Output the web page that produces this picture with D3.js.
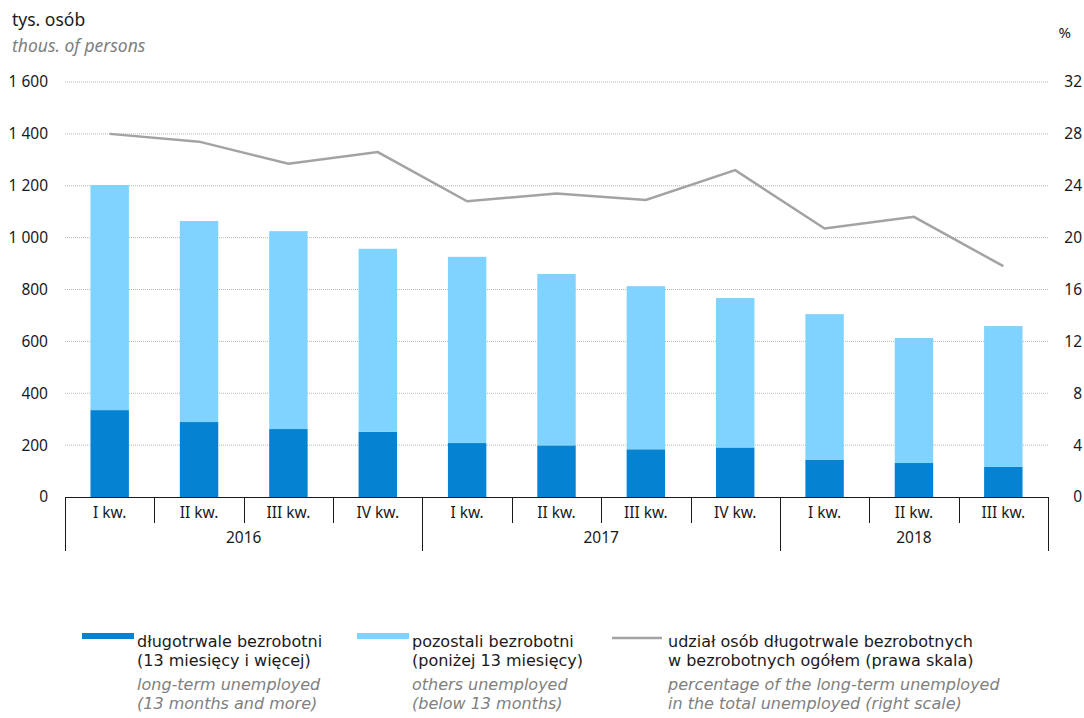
<!DOCTYPE html>
<html>
<head>
<meta charset="utf-8">
<script src="https://cdn.jsdelivr.net/npm/d3@7"></script>
<style>
  body { margin: 0; background: #fff; }
  svg text { font-family: "Noto Sans", "Open Sans", sans-serif; }
  svg text.leg { font-family: "DejaVu Sans", sans-serif; }
</style>
</head>
<body>
<div id="chart"></div>
<script>
// Data
const quarters = ["I kw.", "II kw.", "III kw.", "IV kw.", "I kw.", "II kw.", "III kw.", "IV kw.", "I kw.", "II kw.", "III kw."];
const years = ["2016", "2017", "2018"];
const yearSpans = [4, 4, 3];
const longTerm = [335, 289, 262, 251, 208, 199, 184, 191, 144, 131, 116];
const others = [868, 775, 763, 706, 718, 661, 629, 576, 561, 482, 543];
const sharePct = [28.0, 27.4, 25.7, 26.6, 22.8, 23.4, 22.9, 25.2, 20.7, 21.6, 17.8];
const leftTicks = [0, 200, 400, 600, 800, 1000, 1200, 1400, 1600];
const rightTicks = [0, 4, 8, 12, 16, 20, 24, 28, 32];

const width = 1084, height = 718;
const margin = { left: 65, right: 36, top: 82, bottom: 221 };
const x0 = margin.left, x1 = width - margin.right;
const yTop = margin.top, yBot = height - margin.bottom;

const darkBlue = "#0583d2", lightBlue = "#80d3fe", lineGray = "#a3a3a3";

const svg = d3.select("#chart").append("svg")
    .attr("width", width)
    .attr("height", height);

const idx = d3.range(quarters.length);
const x = d3.scaleBand().domain(idx).range([x0, x1]).paddingInner(0.57).paddingOuter(0.285);
const xb = d3.scaleBand().domain(idx).range([x0, x1]);
const yL = d3.scaleLinear().domain([0, 1600]).range([yBot, yTop]);
const yR = d3.scaleLinear().domain([0, 32]).range([yBot, yTop]);

const fmt = d => d3.format(",")(d).replace(/,/g, " ");

// gridlines
svg.append("g").selectAll("line")
    .data(leftTicks.filter(d => d > 0))
    .join("line")
    .attr("x1", x0).attr("x2", x1)
    .attr("y1", d => yL(d)).attr("y2", d => yL(d))
    .attr("stroke", "#b5b5b5")
    .attr("stroke-width", 1)
    .attr("stroke-dasharray", "1,1");

// left axis labels
svg.append("g").selectAll("text")
    .data(leftTicks)
    .join("text")
    .attr("x", 48).attr("y", d => yL(d))
    .attr("dy", "0.35em")
    .attr("text-anchor", "end")
    .attr("font-size", 15.5)
    .attr("fill", "#1a1a1a")
    .text(fmt);

// right axis labels
svg.append("g").selectAll("text")
    .data(rightTicks)
    .join("text")
    .attr("x", 1082).attr("y", d => yR(d))
    .attr("dy", "0.35em")
    .attr("text-anchor", "end")
    .attr("font-size", 15.5)
    .attr("fill", "#1a1a1a")
    .text(d => d);

// axis titles
svg.append("text").attr("x", 12).attr("y", 26)
    .attr("font-size", 17.5).attr("fill", "#1a1a1a").text("tys. osób");
svg.append("text").attr("x", 12).attr("y", 52)
    .attr("font-size", 17.5).attr("font-style", "italic").attr("fill", "#808080").text("thous. of persons");
svg.append("text").attr("x", 1071).attr("y", 38)
    .attr("font-size", 15).attr("text-anchor", "end").attr("fill", "#1a1a1a").text("%");

// stacked bars
const bars = svg.append("g");
bars.selectAll("rect.lt")
    .data(idx)
    .join("rect")
    .attr("class", "lt")
    .attr("x", i => x(i)).attr("width", x.bandwidth())
    .attr("y", i => yL(longTerm[i]))
    .attr("height", i => yBot - yL(longTerm[i]))
    .attr("fill", darkBlue);
bars.selectAll("rect.ot")
    .data(idx)
    .join("rect")
    .attr("class", "ot")
    .attr("x", i => x(i)).attr("width", x.bandwidth())
    .attr("y", i => yL(longTerm[i] + others[i]))
    .attr("height", i => yL(longTerm[i]) - yL(longTerm[i] + others[i]))
    .attr("fill", lightBlue);

// line (right scale)
const line = d3.line()
    .x(i => xb(i) + xb.bandwidth() / 2)
    .y(i => yR(sharePct[i]));
svg.append("path")
    .datum(idx)
    .attr("d", line)
    .attr("fill", "none")
    .attr("stroke", lineGray)
    .attr("stroke-width", 2.5);

// category axis
const ax = svg.append("g").attr("stroke", "#1a1a1a").attr("stroke-width", 1);
ax.append("line").attr("x1", x0).attr("x2", x1).attr("y1", yBot + 0.5).attr("y2", yBot + 0.5);
// quarter separators
ax.selectAll("line.q")
    .data(idx.slice(1))
    .join("line")
    .attr("class", "q")
    .attr("x1", i => Math.round(xb(i)) + 0.5).attr("x2", i => Math.round(xb(i)) + 0.5)
    .attr("y1", yBot).attr("y2", yBot + 26);
// year separators
const yearBounds = [0];
yearSpans.forEach(s => yearBounds.push(yearBounds[yearBounds.length - 1] + s));
ax.selectAll("line.y")
    .data(yearBounds)
    .join("line")
    .attr("class", "y")
    .attr("x1", b => Math.round(b < idx.length ? xb(b) : x1) + 0.5)
    .attr("x2", b => Math.round(b < idx.length ? xb(b) : x1) + 0.5)
    .attr("y1", yBot).attr("y2", yBot + 54);

svg.append("g").selectAll("text")
    .data(idx)
    .join("text")
    .attr("x", i => xb(i) + xb.bandwidth() / 2)
    .attr("y", yBot + 21)
    .attr("text-anchor", "middle")
    .attr("font-size", 15.5)
    .attr("fill", "#1a1a1a")
    .text(i => quarters[i]);

svg.append("g").selectAll("text")
    .data(years)
    .join("text")
    .attr("x", (d, k) => {
        const a = xb(yearBounds[k]);
        const b = yearBounds[k + 1] < idx.length ? xb(yearBounds[k + 1]) : x1;
        return (a + b) / 2;
    })
    .attr("y", yBot + 46)
    .attr("text-anchor", "middle")
    .attr("font-size", 15.5)
    .attr("fill", "#1a1a1a")
    .text(d => d);

// legend
const legendItems = [
    { type: "rect", color: darkBlue, sx: 82, tx: 137, pl: ["długotrwale bezrobotni", "(13 miesięcy i więcej)"], en: ["long-term unemployed", "(13 months and more)"] },
    { type: "rect", color: lightBlue, sx: 357, tx: 412, pl: ["pozostali bezrobotni", "(poniżej 13 miesięcy)"], en: ["others unemployed", "(below 13 months)"] },
    { type: "line", color: lineGray, sx: 612, tx: 668, pl: ["udział osób długotrwale bezrobotnych", "w bezrobotnych ogółem (prawa skala)"], en: ["percentage of the long-term unemployed", "in the total unemployed (right scale)"] }
];
const lg = svg.append("g");
legendItems.forEach(it => {
    if (it.type === "rect") {
        lg.append("rect").attr("x", it.sx).attr("y", 633).attr("width", 52).attr("height", 6).attr("fill", it.color);
    } else {
        lg.append("line").attr("x1", it.sx).attr("x2", it.sx + 50).attr("y1", 638).attr("y2", 638)
            .attr("stroke", it.color).attr("stroke-width", 2.5);
    }
    const t = lg.append("text").attr("class", "leg").attr("x", it.tx).attr("y", 647).attr("font-size", 16);
    it.pl.forEach((s, k) => {
        t.append("tspan").attr("x", it.tx).attr("dy", k === 0 ? 0 : 19)
            .attr("fill", "#1a1a1a").text(s);
    });
    it.en.forEach((s, k) => {
        t.append("tspan").attr("x", it.tx).attr("dy", k === 0 ? 24 : 19)
            .attr("font-style", "italic").attr("fill", "#808080").text(s);
    });
});
</script>
</body>
</html>
